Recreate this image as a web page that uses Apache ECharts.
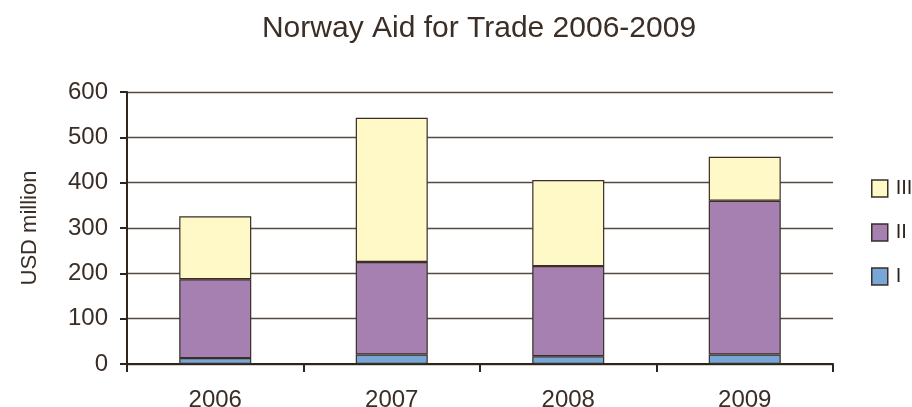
<!DOCTYPE html>
<html>
<head>
<meta charset="utf-8">
<script src="https://cdn.jsdelivr.net/npm/echarts@6/dist/echarts.min.js"></script>
<style>
html, body { margin: 0; padding: 0; background: #fff; }
#main { width: 912px; height: 407px; }
</style>
</head>
<body>
<div id="main"></div>
<script>
var years = ['2006', '2007', '2008', '2009'];
var seriesI = [13, 21, 17, 21];
var seriesII = [174, 204, 199, 339];
var seriesIII = [139, 318, 190, 97];
var yTicks = [0, 100, 200, 300, 400, 500, 600];

var chart = echarts.init(document.getElementById('main'));
var ink = '#2e241c';
var txt = '#3a2e26';
var font = 'Liberation Sans';

function bar(name, data, color) {
    return {
        name: name,
        type: 'bar',
        stack: 'total',
        barWidth: 72,
        data: data,
        itemStyle: { color: color, borderColor: '#3a2e25', borderWidth: 1.2 }
    };
}

var option = {
    animation: false,
    title: {
        text: 'Norway Aid for Trade 2006-2009',
        left: 474, top: 9, textAlign: 'center',
        textStyle: { color: txt, fontSize: 30, fontWeight: 'normal', fontFamily: font }
    },
    grid: { left: 127, right: 79, top: 92, bottom: 43, containLabel: false, outerBoundsMode: 'none' },
    legend: {
        orient: 'vertical',
        left: 866, top: 172,
        icon: 'rect',
        itemWidth: 16, itemHeight: 17, itemGap: 21,
        data: ['III', 'II', 'I'],
        textStyle: { color: ink, fontSize: 20, lineHeight: 23, fontFamily: font, padding: [0, 0, 0, 3] },
        itemStyle: { borderColor: '#3a2e25', borderWidth: 1.5 }
    },
    xAxis: {
        type: 'category',
        data: years,
        axisLine: { lineStyle: { color: ink, width: 2 } },
        axisTick: { show: true, length: 8, lineStyle: { color: ink, width: 2 } },
        axisLabel: { color: txt, fontSize: 24, fontFamily: font, margin: 24 }
    },
    yAxis: {
        type: 'value',
        min: 0, max: 600, interval: 100,
        name: 'USD million',
        nameLocation: 'middle',
        nameGap: 86,
        nameTextStyle: { color: txt, fontSize: 22, fontFamily: font },
        axisLine: { show: true, lineStyle: { color: ink, width: 2 } },
        axisTick: { show: true, length: 7, lineStyle: { color: ink, width: 2 } },
        axisLabel: {
            color: txt, fontSize: 24, fontFamily: font, margin: 19,
            formatter: function (v) { return yTicks.indexOf(v) >= 0 ? String(v) : ''; }
        },
        splitLine: { show: true, lineStyle: { color: '#554a41', width: 1.3 } }
    },
    series: [
        bar('I', seriesI, '#78a6d6'),
        bar('II', seriesII, '#a580b0'),
        bar('III', seriesIII, '#fff9c8')
    ]
};
chart.setOption(option);
</script>
</body>
</html>
